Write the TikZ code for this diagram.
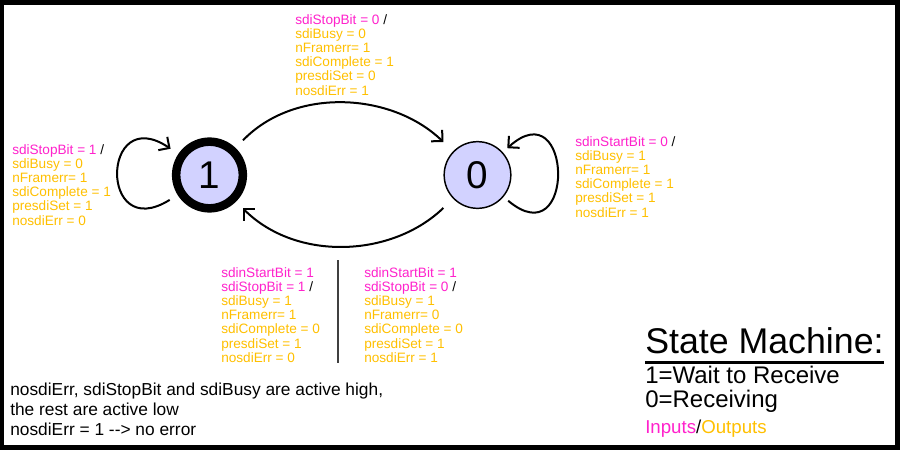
\documentclass[tikz,border=0pt]{standalone}
\usepackage{fontspec}
\setmainfont{Liberation Sans}
\usetikzlibrary{arrows.meta}
\definecolor{inp}{HTML}{FF22CC}
\definecolor{outp}{HTML}{FFC000}
\definecolor{stfill}{HTML}{D2D2FF}
\tikzset{
  sc/.style={circle, minimum size=50pt, inner sep=0pt, draw=black, fill=stfill, line width=1.1pt, font=\fontsize{29}{30}\selectfont},
  sci/.style={sc, line width=6.4pt},
  lb/.style={anchor=north west, inner sep=0pt, align=left, text=outp, font=\fontsize{10.2}{10.65}\selectfont},
  tx/.style={anchor=base west, inner sep=0pt},
  tr/.style={->, line width=1.5pt},
  >={Straight Barb[length=6pt,width=12pt]}
}
\begin{document}
\begin{tikzpicture}[x=0.75pt, y=0.75pt]
	% frame
	\fill[black] (0,0) rectangle (900,-450);
	\fill[white] (4,-5) rectangle (895,-445);
	%
	\node[sci] (s1) at (209.5,-175) {1};
	\node[sc] (s0) at (477.5,-175) {0};
	%
	\draw[tr, shorten <=8pt, shorten >=10pt] (s1) to[out=46, in=136] (s0);
	\draw[tr, shorten <=10pt, shorten >=7pt] (s0) to[out=224, in=315] (s1);
	\draw[tr, shorten <=7pt, shorten >=7pt] (s1) to[out=212, in=146, distance=70pt] (s1);
	\draw[tr, shorten <=4.5pt, shorten >=4.5pt] (s0) to[out=320, in=42, distance=71pt] (s0);
	%
	\node[lb] (lbtop) at (295,-14) {{\color{inp}sdiStopBit = 0} {\color{black}/}\\sdiBusy = 0\\nFramerr= 1\\sdiComplete = 1\\presdiSet = 0\\nosdiErr = 1};
	\node[lb] (lbloopa) at (12,-144) {{\color{inp}sdiStopBit = 1} {\color{black}/}\\sdiBusy = 0\\nFramerr= 1\\sdiComplete = 1\\presdiSet = 1\\nosdiErr = 0};
	\node[lb] (lbloopb) at (575,-136) {{\color{inp}sdinStartBit = 0} {\color{black}/}\\sdiBusy = 1\\nFramerr= 1\\sdiComplete = 1\\presdiSet = 1\\nosdiErr = 1};
	\node[lb] (lbreta) at (221,-267) {{\color{inp}sdinStartBit = 1}\\{\color{inp}sdiStopBit = 1} {\color{black}/}\\sdiBusy = 1\\nFramerr= 1\\sdiComplete = 0\\presdiSet = 1\\nosdiErr = 0};
	\node[lb] (lbretb) at (364,-267) {{\color{inp}sdinStartBit = 1}\\{\color{inp}sdiStopBit = 0} {\color{black}/}\\sdiBusy = 1\\nFramerr= 0\\sdiComplete = 0\\presdiSet = 1\\nosdiErr = 1};
	\draw[line width=1.1pt, black!75] (338,-260) -- (338,-363);
	%
	\node[anchor=north west, inner sep=0pt, align=left, font=\fontsize{13}{15}\selectfont] (note) at (10,-382.5) {nosdiErr, sdiStopBit and sdiBusy are active high,\\the rest are active low\\nosdiErr = 1 -{}-{}> no error};
	%
	\node[tx, font=\fontsize{26.8}{30}\selectfont] (title) at (645,-353) {State Machine:};
	\draw[line width=2.2pt] ([yshift=-6.8pt]title.base west) -- ([yshift=-6.8pt]title.base east);
	\node[tx, font=\fontsize{18}{20}\selectfont] (waitrx) at (645,-383) {1=Wait to Receive};
	\node[tx, font=\fontsize{18}{20}\selectfont] (recv) at (645,-407) {0=Receiving};
	\node[tx, font=\fontsize{14}{16}\selectfont] (key) at (645,-433) {{\color{inp}Inputs}/{\color{outp}Outputs}};
\end{tikzpicture}
\end{document}
